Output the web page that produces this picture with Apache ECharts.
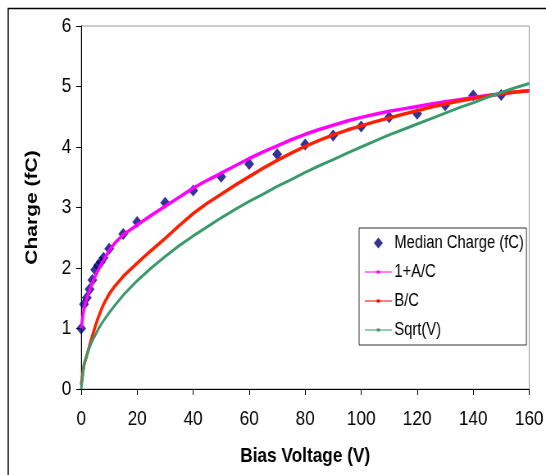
<!DOCTYPE html>
<html>
<head>
<meta charset="utf-8">
<script src="https://cdn.jsdelivr.net/npm/echarts@6/dist/echarts.min.js"></script>
<style>
  html, body { margin: 0; padding: 0; background: #fff; overflow: hidden; }
  /* the chart is laid out wide and compressed horizontally, giving the narrow lettering */
  #chart { width: 666px; height: 475px; transform: scaleX(0.81982); transform-origin: 0 0; }
</style>
</head>
<body>
<div id="chart"></div>
<script>
// Measured median charge versus bias voltage
const measuredVoltage = [0, 1, 2, 3, 4, 5, 6, 7, 8, 10, 15, 20, 30, 40, 50, 60, 70, 80, 90, 100, 110, 120, 130, 140, 150];
const medianCharge    = [1.00, 1.40, 1.51, 1.65, 1.80, 1.97, 2.04, 2.10, 2.17, 2.32, 2.56, 2.76, 3.08, 3.28, 3.51, 3.72, 3.88, 4.04, 4.19, 4.34, 4.49, 4.55, 4.69, 4.85, 4.86];

// Model curves sampled along the voltage range
const modelVoltage = [0, 1, 2, 3, 4, 5, 6, 7, 8, 10, 12, 15, 20, 25, 30, 35, 40, 45, 50, 55, 60, 65, 70, 75, 80, 85, 90, 95, 100, 105, 110, 115, 120, 125, 130, 135, 140, 145, 150, 155, 160];
const curveOnePlusAC = [1.00, 1.33, 1.50, 1.63, 1.75, 1.86, 1.96, 2.05, 2.13, 2.29, 2.41, 2.55, 2.71, 2.87, 3.02, 3.17, 3.32, 3.45, 3.57, 3.69, 3.81, 3.92, 4.02, 4.12, 4.21, 4.29, 4.36, 4.43, 4.49, 4.54, 4.59, 4.63, 4.67, 4.71, 4.75, 4.78, 4.82, 4.85, 4.88, 4.91, 4.93];
const curveBC        = [0.07, 0.40, 0.55, 0.72, 0.88, 1.03, 1.17, 1.29, 1.40, 1.57, 1.70, 1.86, 2.08, 2.29, 2.49, 2.70, 2.90, 3.07, 3.22, 3.37, 3.51, 3.65, 3.78, 3.90, 4.01, 4.11, 4.20, 4.28, 4.35, 4.42, 4.48, 4.54, 4.60, 4.66, 4.71, 4.76, 4.80, 4.84, 4.88, 4.91, 4.93];
const curveSqrtV     = [0.00, 0.40, 0.56, 0.69, 0.80, 0.89, 0.98, 1.06, 1.13, 1.26, 1.38, 1.55, 1.79, 2.00, 2.19, 2.37, 2.53, 2.68, 2.83, 2.97, 3.10, 3.22, 3.35, 3.46, 3.58, 3.69, 3.79, 3.90, 4.00, 4.10, 4.20, 4.29, 4.38, 4.47, 4.56, 4.65, 4.73, 4.82, 4.90, 4.98, 5.05];

const seriesNames = ['Median Charge (fC)', '1+A/C', 'B/C', 'Sqrt(V)'];
const xTitle = 'Bias Voltage (V)';
const yTitle = 'Charge (fC)';

const FONT = "'Liberation Sans', Arial, sans-serif";

function pairs(xs, ys) { return xs.map((x, i) => [x, ys[i]]); }

// small line-with-marker glyph for the legend
const lineIcon = 'path://M0,1H33V2H0Z M14.5,0H18.5V3H14.5Z';
const diamondIcon = 'path://M5,0L10,5L5,10L0,5Z';

const chart = echarts.init(document.getElementById('chart'), null, { renderer: 'canvas' });

chart.setOption({
  animation: false,
  backgroundColor: '#fff',
  textStyle: { fontFamily: FONT },
  grid: {
    left: 99, right: 18, top: 26, bottom: 86,
    show: true, borderColor: '#9a9a9a', borderWidth: 1, backgroundColor: 'transparent'
  },
  xAxis: {
    type: 'value', min: 0, max: 160, interval: 20,
    name: xTitle, nameLocation: 'middle', nameGap: 57,
    nameTextStyle: { fontFamily: FONT, fontSize: 21, fontWeight: 'bold', color: '#000' },
    axisLine: { show: true, onZero: false, lineStyle: { color: '#000', width: 1 } },
    axisTick: { show: true, inside: false, length: 6, lineStyle: { color: '#000' } },
    axisLabel: { fontFamily: FONT, fontSize: 21, color: '#000', margin: 20 },
    splitLine: { show: false }
  },
  yAxis: {
    type: 'value', min: 0, max: 6, interval: 1,
    name: yTitle, nameLocation: 'middle', nameGap: 49, nameRotate: 90,
    nameTextStyle: { fontFamily: FONT, fontSize: 21, fontWeight: 'bold', color: '#000' },
    axisLine: { show: true, onZero: false, lineStyle: { color: '#000', width: 1 } },
    axisTick: { show: true, inside: false, length: 6, lineStyle: { color: '#000' } },
    axisLabel: { fontFamily: FONT, fontSize: 21, color: '#000', margin: 12 },
    splitLine: { show: false }
  },
  legend: {
    orient: 'vertical', left: 438, top: 228,
    padding: [5, 3, 5, 7],
    itemGap: 9, itemWidth: 33, itemHeight: 11,
    symbolKeepAspect: true,
    backgroundColor: '#fff', borderColor: '#333', borderWidth: 1, borderRadius: 0,
    textStyle: { fontFamily: FONT, fontSize: 18, color: '#000', lineHeight: 20, padding: [0, 0, 0, -2] },
    data: [
      { name: seriesNames[0], icon: diamondIcon },
      { name: seriesNames[1], icon: lineIcon },
      { name: seriesNames[2], icon: lineIcon },
      { name: seriesNames[3], icon: lineIcon }
    ]
  },
  graphic: [{
    type: 'rect', silent: true, z: 100,
    shape: { x: 10, y: 8.5, width: 800, height: 700 },
    style: { fill: null, stroke: '#000', lineWidth: 1.5 }
  }],
  series: [
    {
      name: seriesNames[0], type: 'scatter',
      data: pairs(measuredVoltage, medianCharge),
      symbol: 'diamond', symbolSize: 12,
      itemStyle: { color: '#000080' }
    },
    {
      name: seriesNames[1], type: 'line',
      data: pairs(modelVoltage, curveOnePlusAC),
      smooth: false, showSymbol: false, symbol: 'rect',
      itemStyle: { color: '#ff00ff' },
      lineStyle: { color: '#ff00ff', width: 3.5 }
    },
    {
      name: seriesNames[2], type: 'line',
      data: pairs(modelVoltage, curveBC),
      smooth: false, showSymbol: false, symbol: 'circle',
      itemStyle: { color: '#ff0000' },
      lineStyle: { color: '#ff2000', width: 3.5 }
    },
    {
      name: seriesNames[3], type: 'line',
      data: pairs(modelVoltage, curveSqrtV),
      smooth: false, showSymbol: false, symbol: 'rect',
      itemStyle: { color: '#339966' },
      lineStyle: { color: '#3a9a6c', width: 3 }
    }
  ]
});
</script>
</body>
</html>
